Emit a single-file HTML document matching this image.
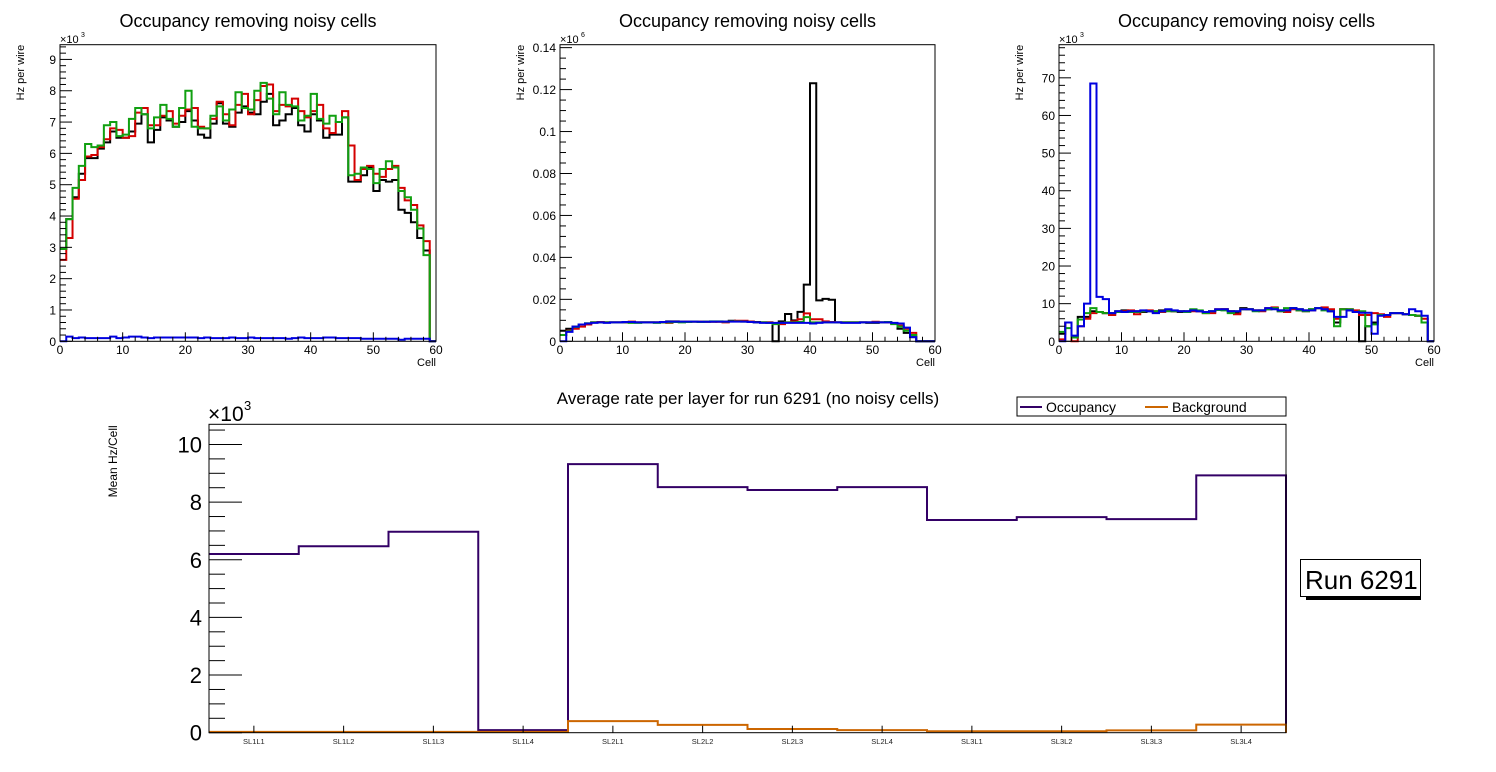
<!DOCTYPE html>
<html><head><meta charset="utf-8"><style>
html,body{margin:0;padding:0;background:#fff;}
svg{display:block;font-family:"Liberation Sans",Arial,sans-serif;}
</style></head><body>
<svg id="c" width="1496" height="772" viewBox="0 0 1496 772" xmlns="http://www.w3.org/2000/svg"></svg>
<script>
// ---- Panel 1 data (x10^3 Hz) ----
const p1Black=[2.95,3.9,4.6,5.35,5.85,5.85,6.15,6.35,6.7,6.5,6.5,6.7,6.95,7.25,6.35,6.75,7.15,7.05,6.85,7.0,7.35,7.05,6.6,6.5,6.95,7.6,6.95,6.85,7.3,7.5,7.3,7.25,7.65,7.9,6.9,7.05,7.25,7.45,6.9,6.7,7.25,7.05,6.5,6.6,6.6,7.15,5.1,5.1,5.3,5.55,4.8,5.15,5.1,5.15,4.2,4.1,3.8,3.3,2.9,0];
const p1Red=[2.6,3.3,4.55,5.15,5.9,5.95,6.2,6.45,6.8,6.75,6.5,6.55,7.3,7.45,6.9,6.9,7.2,7.35,6.95,7.2,7.4,7.45,6.85,6.8,7.1,7.65,7.25,6.9,7.55,7.9,7.25,7.7,8.15,8.2,7.35,7.55,7.5,7.75,7.35,7.15,7.35,7.55,6.8,6.65,7.0,7.35,6.25,5.15,5.5,5.6,5.35,5.25,5.5,5.6,4.9,4.5,4.35,3.7,3.2,0];
const p1Green=[2.95,3.9,4.9,5.6,6.3,6.2,6.25,6.9,7.0,6.55,6.6,7.1,7.45,7.25,6.8,7.15,7.55,7.1,6.85,7.45,8.0,6.85,6.8,6.8,7.2,7.5,7.05,7.4,7.95,7.45,7.4,8.0,8.25,7.75,7.25,7.95,7.55,7.5,7.05,7.2,7.9,7.1,6.95,7.2,7.0,7.15,5.3,5.35,5.55,5.5,5.05,5.5,5.75,5.55,4.8,4.6,4.2,3.6,2.75,0];
const p1Blue=[0,0.15,0.1,0.12,0.1,0.1,0.1,0.1,0.15,0.1,0.12,0.15,0.15,0.12,0.1,0.12,0.12,0.12,0.12,0.12,0.12,0.12,0.1,0.12,0.1,0.1,0.1,0.12,0.1,0.1,0.12,0.1,0.1,0.1,0.1,0.1,0.08,0.1,0.12,0.1,0.1,0.1,0.12,0.12,0.1,0.1,0.1,0.1,0.08,0.08,0.08,0.08,0.08,0.08,0.05,0.08,0.08,0.08,0.08,0];
// ---- Panel 2 data (x10^6 Hz) ----
const p2Black=[0.005,0.006,0.007,0.008,0.0085,0.009,0.009,0.009,0.009,0.009,0.009,0.0092,0.009,0.009,0.009,0.009,0.009,0.0095,0.0095,0.0093,0.0093,0.0094,0.0093,0.0093,0.0093,0.0094,0.0094,0.0098,0.0095,0.0095,0.0094,0.0092,0.009,0.009,0,0.0095,0.013,0.01,0.014,0.027,0.123,0.0195,0.0202,0.0198,0.009,0.009,0.009,0.009,0.009,0.0088,0.0088,0.009,0.009,0.0085,0.006,0.004,0.002,0,0,0];
const p2Red=[0.003,0.005,0.006,0.007,0.008,0.009,0.0092,0.009,0.009,0.009,0.0092,0.0094,0.009,0.009,0.009,0.009,0.009,0.0088,0.0093,0.0093,0.0094,0.0094,0.0093,0.0093,0.0094,0.0093,0.009,0.0095,0.0098,0.0098,0.0094,0.009,0.009,0.009,0.0085,0.0082,0.009,0.0095,0.0105,0.0133,0.0105,0.0105,0.0095,0.0092,0.009,0.009,0.009,0.009,0.009,0.009,0.0093,0.009,0.009,0.0085,0.0075,0.006,0.004,0,0,0];
const p2Green=[0.003,0.0048,0.0068,0.008,0.0086,0.009,0.009,0.009,0.009,0.009,0.0092,0.0088,0.0088,0.009,0.009,0.0088,0.009,0.009,0.0092,0.009,0.0092,0.0094,0.0092,0.0094,0.0095,0.0095,0.0093,0.0095,0.0095,0.0094,0.0092,0.009,0.009,0.0088,0.0082,0.0088,0.009,0.009,0.0092,0.0115,0.009,0.009,0.009,0.009,0.009,0.009,0.009,0.009,0.009,0.009,0.009,0.009,0.0092,0.0082,0.007,0.005,0.003,0,0,0];
const p2Blue=[0,0.0045,0.007,0.008,0.0085,0.0088,0.009,0.0088,0.009,0.009,0.0092,0.0092,0.009,0.009,0.009,0.009,0.0092,0.0094,0.0094,0.0094,0.0094,0.0094,0.0093,0.0093,0.0094,0.0094,0.0094,0.0094,0.0094,0.0094,0.0092,0.009,0.0088,0.0088,0.0088,0.0088,0.0088,0.0088,0.0088,0.0088,0.0085,0.0088,0.009,0.009,0.009,0.0088,0.0088,0.0088,0.009,0.009,0.009,0.009,0.009,0.0088,0.0085,0.0065,0.002,0,0,0];
// ---- Panel 3 data (x10^3 Hz) ----
const p3Black=[2,5,1,6.5,6.5,8,7.8,7.5,7.5,8,8.2,8,8,7.8,8,8,8.2,8.3,8,7.8,8,8.2,8,7.8,8,8.4,8.5,8,7.5,8.8,8.5,8.2,8.2,8.5,8.8,8.2,8.2,8.8,8.5,8.2,8.5,8.8,8.5,8,5,8.5,8.2,8,0,4,5,7,7,7.5,7.5,7.2,7,6.8,5,0];
const p3Red=[0.5,5,0,4,6,7.5,7.8,7.5,7,7.8,8,8.2,7.2,8,8.2,7.8,7.8,8.3,8,8,7.8,8,8,7.5,7.5,8.5,8.5,8,7.2,8.5,8.5,8.2,8,8.8,9,8,7.8,8.5,8.2,8,8.2,8.8,9,8.5,6,8.5,8.5,8.2,7,7,7.5,7.2,6.5,7.5,7.5,7.2,7,6.8,6,0];
const p3Green=[2.5,3.5,1,5.8,7.5,8.8,7.8,7.5,7.5,7.8,7.8,7.8,7.8,8,8,8,8,8,8,8,7.8,8.5,8.2,7.5,8,8.3,8.2,7.5,8,8.5,8.5,8,8.2,8.5,8.8,8,8.8,8.8,8.2,8,8.5,8.8,8.2,8,4,8.5,8.5,7.8,8,4,4.5,7,7,7.5,7.5,7.2,7,6.8,5,0];
const p3Blue=[0,5,1.5,4,10,68.5,11.8,11.2,7.5,8,7.8,8,8,8.2,8,7.5,8,8.5,8.2,8,8,8.2,8,7.8,8,8.5,8.5,8,8,8.5,8.5,8.2,8.2,8.8,8.5,8.2,8.2,8.8,8.5,8.2,8.2,8.8,8.5,8,6.5,6.5,8.2,7.8,7.6,7.6,2,6.8,7,7.5,7.5,7.2,8.5,8,6.8,0];
// ---- Bottom chart data (x10^3 Hz/Cell) ----
const layerLabels=["SL1L1","SL1L2","SL1L3","SL1L4","SL2L1","SL2L2","SL2L3","SL2L4","SL3L1","SL3L2","SL3L3","SL3L4"];
const occupancy=[6.2,6.47,6.97,0.09,9.32,8.52,8.42,8.52,7.38,7.48,7.41,8.93];
const background=[0.03,0.03,0.03,0.03,0.4,0.27,0.13,0.09,0.05,0.05,0.08,0.28];
const p1Ticks=["0","1","2","3","4","5","6","7","8","9"];
const p2Ticks=["0","0.02","0.04","0.06","0.08","0.1","0.12","0.14"];
const p3Ticks=["0","10","20","30","40","50","60","70"];
const xTicks=["0","10","20","30","40","50","60"];
const bTicks=["0","2","4","6","8","10"];

const svg=document.getElementById('c');
const NS="http://www.w3.org/2000/svg";
function mk(tag,attrs,parent,text){const e=document.createElementNS(NS,tag);for(const k in attrs)e.setAttribute(k,attrs[k]);if(text!==undefined)e.textContent=text;(parent||svg).appendChild(e);return e;}

function histPath(vals,xs,ys){
  let d="";
  for(let i=0;i<vals.length;i++){
    const x0=xs(i),x1=xs(i+1),y=ys(vals[i]);
    d+=(i===0?"M":"L")+x0+","+y+"L"+x1+","+y;
  }
  d+="L"+xs(vals.length)+","+ys(0);
  return d;
}

function topPanel(cfg){
  const g=mk('g',{},svg);
  
  
  const L=cfg.L,R=cfg.R,T=44.7,B=341.3;
  const xs=i=>L+(R-L)*i/60;
  const ys=v=>B-(B-T)*v/cfg.ymax;
  const t=mk('text',{x:(L+R)/2,y:27,'font-size':18,'text-anchor':'middle',fill:'#000'},g,"Occupancy removing noisy cells");
  
  
  cfg.series.forEach(s=>{
    const p=mk('path',{d:histPath(s.v,xs,ys),fill:'none',stroke:s.c,'stroke-width':2},g);
    
    
  });
  mk('rect',{x:L,y:T,width:R-L,height:B-T,fill:'none',stroke:'#000','stroke-width':1},g);
  for(let v=0;v<=cfg.ymax+1e-9;v+=cfg.minor){
    const major=Math.abs(v/cfg.major-Math.round(v/cfg.major))<1e-6;
    const y=ys(v);
    mk('line',{x1:L,x2:L+(major?12:6),y1:y,y2:y,stroke:'#000','stroke-width':1},g);
  }
  cfg.ticks.forEach((lab,i)=>{
    const tt=mk('text',{x:L-4,y:ys(i*cfg.major)+4.5,'font-size':12,'text-anchor':'end'},g,lab);
    
    
  });
  for(let c=0;c<=60;c+=2){
    const x=xs(c);const major=c%10===0;
    mk('line',{x1:x,x2:x,y1:B,y2:B-(major?9:4.5),stroke:'#000','stroke-width':1},g);
  }
  xTicks.forEach((lab,i)=>{
    const tt=mk('text',{x:xs(i*10),y:354,'font-size':12,'text-anchor':'middle'},g,lab);
    
    
  });
  const xt=mk('text',{x:R,y:366,'font-size':11,'text-anchor':'end'},g,"Cell");
  
  
  const yt=mk('text',{transform:`translate(${L-36},${T}) rotate(-90)`,'font-size':11,'text-anchor':'end'},g,"Hz per wire");
  
  
  const ex=mk('text',{x:L,y:43,'font-size':11},g,"×10");
  
  
  mk('text',{x:L+21,y:37,'font-size':7},g,cfg.exp);
}

topPanel({name:'panel-1',L:60,R:436,ymax:9.47,major:1,minor:0.2,ticks:p1Ticks,exp:"3",
  series:[{v:p1Black,c:'#000',n:'series-black'},{v:p1Red,c:'#d40000',n:'series-red'},{v:p1Green,c:'#11a011',n:'series-green'},{v:p1Blue,c:'#0000e0',n:'series-blue'}]});
topPanel({name:'panel-2',L:560,R:935,ymax:0.1414,major:0.02,minor:0.005,ticks:p2Ticks,exp:"6",
  series:[{v:p2Black,c:'#000',n:'series-black'},{v:p2Red,c:'#d40000',n:'series-red'},{v:p2Green,c:'#11a011',n:'series-green'},{v:p2Blue,c:'#0000e0',n:'series-blue'}]});
topPanel({name:'panel-3',L:1059,R:1434,ymax:78.8,major:10,minor:2,ticks:p3Ticks,exp:"3",
  series:[{v:p3Black,c:'#000',n:'series-black'},{v:p3Red,c:'#d40000',n:'series-red'},{v:p3Green,c:'#11a011',n:'series-green'},{v:p3Blue,c:'#0000e0',n:'series-blue'}]});

(function(){
  const g=mk('g',{},svg);
  
  
  const L=209,R=1286,T=424.3,B=732.7,ymax=10.7;
  const n=layerLabels.length;
  const xs=i=>L+(R-L)*i/n;
  const ys=v=>B-(B-T)*v/ymax;
  const t=mk('text',{x:748,y:404,'font-size':17,'text-anchor':'middle'},g,"Average rate per layer for run 6291 (no noisy cells)");
  
  
  const po=mk('path',{d:histPath(occupancy,xs,ys),fill:'none',stroke:'#330066','stroke-width':2},g);
  
  
  const pb=mk('path',{d:histPath(background,xs,ys),fill:'none',stroke:'#cc6600','stroke-width':2},g);
  
  
  mk('rect',{x:L,y:T,width:R-L,height:B-T,fill:'none',stroke:'#000','stroke-width':1},g);
  for(let v=0;v<=ymax+1e-9;v+=0.5){
    const major=Math.abs(v/2-Math.round(v/2))<1e-6;const y=ys(v);
    mk('line',{x1:L,x2:L+(major?33:16),y1:y,y2:y,stroke:'#000','stroke-width':1},g);
  }
  bTicks.forEach((lab,i)=>{
    const tt=mk('text',{x:202,y:ys(i*2)+8,'font-size':22,'text-anchor':'end'},g,lab);
    
    
  });
  layerLabels.forEach((lab,i)=>{
    const x=(xs(i)+xs(i+1))/2;
    mk('line',{x1:x,x2:x,y1:B,y2:B-7,stroke:'#000','stroke-width':1},g);
    const tt=mk('text',{x:x,y:744,'font-size':7.5,'text-anchor':'middle',fill:'#222'},g,lab);
    
    
  });
  const ex=mk('text',{x:208,y:421,'font-size':21},g,"×10");
  
  
  mk('text',{x:244,y:410,'font-size':13},g,"3");
  const yt=mk('text',{transform:`translate(117,${T+1}) rotate(-90)`,'font-size':12,'text-anchor':'end'},g,"Mean Hz/Cell");
  
  
  const lg=mk('g',{},g);
  
  
  mk('rect',{x:1017,y:397,width:269,height:19,fill:'#fff',stroke:'#000','stroke-width':1},lg);
  mk('line',{x1:1020,x2:1042,y1:407,y2:407,stroke:'#330066','stroke-width':2},lg);
  const l1=mk('text',{x:1046,y:412,'font-size':14},lg,"Occupancy");
  
  
  mk('line',{x1:1145,x2:1168,y1:407,y2:407,stroke:'#cc6600','stroke-width':2},lg);
  const l2=mk('text',{x:1172,y:412,'font-size':14},lg,"Background");
  
  
  const rb=mk('g',{},svg);
  
  
  mk('rect',{x:1306,y:596,width:115,height:4,fill:'#000'},rb);
  mk('rect',{x:1300.5,y:559.5,width:120,height:37,fill:'#fff',stroke:'#000','stroke-width':1},rb);
  mk('text',{x:1305,y:589,'font-size':26},rb,"Run 6291");
})();
</script>
</body></html>
